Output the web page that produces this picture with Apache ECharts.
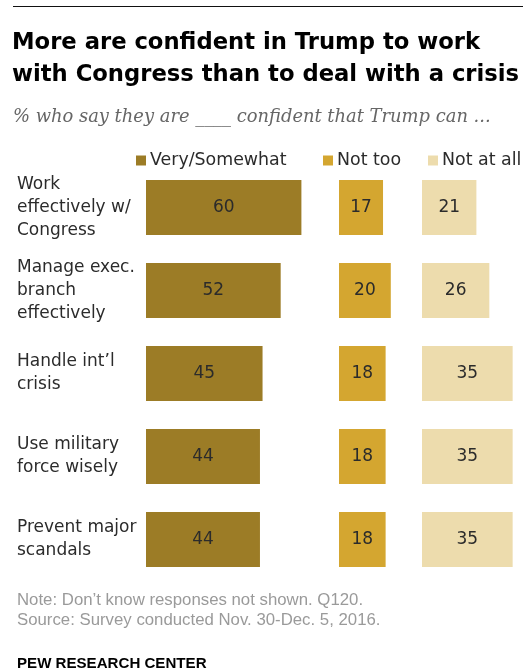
<!DOCTYPE html>
<html>
<head>
<meta charset="utf-8">
<script src="https://cdn.jsdelivr.net/npm/echarts@6/dist/echarts.min.js"></script>
<style>
  html, body { margin: 0; padding: 0; background: #fff; }
  #chart { width: 523px; height: 672px; }
</style>
</head>
<body>
<div id="chart"></div>
<script>
// Survey items (one per row) and the share giving each answer
const categories = [
  'Work\neffectively w/\nCongress',
  'Manage exec.\nbranch\neffectively',
  'Handle int\u2019l\ncrisis',
  'Use military\nforce wisely',
  'Prevent major\nscandals'
];
const verySomewhat = [60, 52, 45, 44, 44];
const notToo = [17, 20, 18, 18, 18];
const notAtAll = [21, 26, 35, 35, 35];
const seriesNames = ['Very/Somewhat', 'Not too', 'Not at all'];

const colors = ['#9c7c26', '#d4a630', '#eddcad'];
const sans = 'DejaVu Sans';
const pxPerPoint = 2.59;      // horizontal scale shared by all three panels
const panelLefts = [146, 339, 422];
const gridTop = 166;
const gridHeight = 415;

const panels = [verySomewhat, notToo, notAtAll];
// each panel's axis ends at its own largest value, so widths keep one scale
const panelMax = panels.map(v => Math.max(...v));

const grids = panelLefts.map((l, i) => ({
  left: l, top: gridTop, width: panelMax[i] * pxPerPoint, height: gridHeight
}));

const xAxes = panels.map((_, i) => ({
  type: 'value', gridIndex: i, min: 0, max: panelMax[i], show: false
}));

const yAxes = panels.map((_, i) => ({
  type: 'category', gridIndex: i, data: categories, inverse: true,
  axisLine: { show: false }, axisTick: { show: false },
  axisLabel: i === 0 ? {
    show: true, align: 'left', margin: 129,
    fontFamily: sans, fontSize: 17, lineHeight: 23, color: '#2b2b2b'
  } : { show: false }
}));

const series = panels.map((vals, i) => ({
  name: seriesNames[i], type: 'bar', xAxisIndex: i, yAxisIndex: i,
  data: vals, barWidth: 55,
  itemStyle: { color: colors[i] },
  label: {
    show: true, position: 'inside',
    fontFamily: sans, fontSize: 17, color: '#2b2b2b'
  },
  emphasis: { disabled: true }
}));

const legendLefts = [136, 323, 428];
const legends = seriesNames.map((n, i) => ({
  data: [n], left: legendLefts[i], top: 152, padding: 0,
  icon: 'rect', itemWidth: 10, itemHeight: 10,
  selectedMode: false,
  textStyle: { fontFamily: sans, fontSize: 17.4, color: '#2b2b2b', padding: [0, 0, 0, -1] }
}));

const option = {
  animation: false,
  title: [
    {
      text: 'More are confident in Trump to work\nwith Congress than to deal with a crisis',
      left: 12, top: 27, padding: 0,
      textStyle: { fontFamily: sans, fontWeight: 'bold', fontSize: 22.7, lineHeight: 32, color: '#000' }
    },
    {
      text: '% who say they are ____ confident that Trump can ...',
      left: 13, top: 107, padding: 0,
      textStyle: { fontFamily: 'DejaVu Serif', fontStyle: 'italic', fontWeight: 'normal', fontSize: 17.9, lineHeight: 20, color: '#666' }
    },
    {
      text: 'Note: Don\u2019t know responses not shown. Q120.\nSource: Survey conducted Nov. 30-Dec. 5, 2016.',
      left: 17, top: 590, padding: 0,
      textStyle: { fontFamily: 'Liberation Sans', fontWeight: 'normal', fontSize: 16.8, lineHeight: 20, color: '#9a9a9a' }
    },
    {
      text: 'PEW RESEARCH CENTER',
      left: 17, top: 656, padding: 0,
      textStyle: { fontFamily: 'Liberation Sans', fontWeight: 'bold', fontSize: 15.1, lineHeight: 16, color: '#000' }
    }
  ],
  graphic: [
    { type: 'line', shape: { x1: 13, y1: 6.5, x2: 523, y2: 6.5 }, style: { stroke: '#111', lineWidth: 1.2 } }
  ],
  legend: legends,
  grid: grids,
  xAxis: xAxes,
  yAxis: yAxes,
  series: series
};

const chart = echarts.init(document.getElementById('chart'), null, { renderer: 'canvas' });
chart.setOption(option);
</script>
</body>
</html>
